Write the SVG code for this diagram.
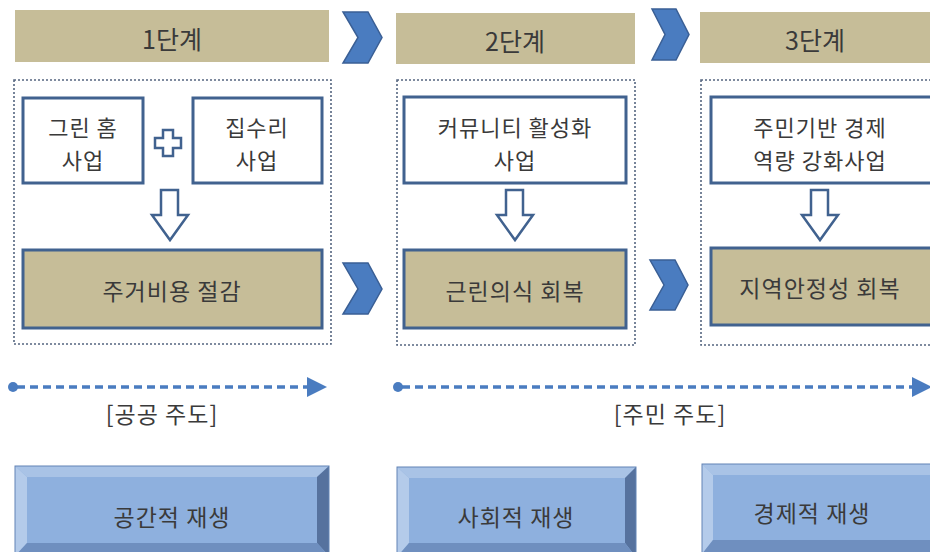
<svg xmlns="http://www.w3.org/2000/svg" width="930" height="552" viewBox="0 0 930 552">
<style>
text{font-family:"Noto Sans CJK KR","Noto Sans",sans-serif;fill:#3a3a3a;text-anchor:middle;dominant-baseline:central}
.bar{fill:#c6bd98}
.dot{fill:none;stroke:#556680;stroke-width:1.6;stroke-dasharray:2 2}
.wbox{fill:#fff;stroke:#41628f;stroke-width:3}
.kbox{fill:#c6bd98;stroke:#41628f;stroke-width:3}
.chev{fill:#4a7cc0;stroke:#3a5f95;stroke-width:1.5}
.hol{fill:#fff;stroke:#41628f;stroke-width:2.5;stroke-linejoin:miter}
.dash{stroke:#4a7cc0;stroke-width:3.5;stroke-dasharray:8 5}
.fc{fill:#8eb0de}.bt{fill:#a9c3e6}.bl{fill:#b4cbea}.br{fill:#56729e}.bb{fill:#6f8fbf}
.bo{fill:none;stroke:#6384b5;stroke-width:1}
.t22{font-size:25px}.t20{font-size:23px;letter-spacing:1px}.t2l{font-size:22px;letter-spacing:1px}
</style>
<g id="headers">
<g id="stage1"><rect class="bar" x="15" y="10" width="314" height="52"/><text class="t22" x="172" y="38">1단계</text></g>
<g id="stage2"><rect class="bar" x="396" y="13" width="239" height="51"/><text class="t22" x="515" y="40">2단계</text></g>
<g id="stage3"><rect class="bar" x="700" y="12" width="240" height="51"/><text class="t22" x="815" y="39">3단계</text></g>
</g>
<g id="frames">
<rect class="dot" x="14" y="80" width="317" height="264"/>
<rect class="dot" x="397" y="80" width="238" height="265"/>
<rect class="dot" x="701" y="80" width="240" height="265"/>
</g>
<g id="greenhome"><rect class="wbox" x="23" y="98" width="120" height="85"/><text class="t2l" x="83" y="126">그린 홈</text><text class="t2l" x="83" y="159">사업</text></g>
<g id="plus"><path class="hol" d="M163,130 h10 v8 h8 v10 h-8 v8 h-10 v-8 h-8 v-10 h8 z"/></g>
<g id="repair"><rect class="wbox" x="193" y="98" width="129" height="85"/><text class="t2l" x="257" y="126">집수리</text><text class="t2l" x="257" y="159">사업</text></g>
<g id="saving"><rect class="kbox" x="23" y="250" width="299" height="78"/><text class="t20" x="172" y="290">주거비용 절감</text></g>
<g id="community"><rect class="wbox" x="404" y="97" width="222" height="86"/><text class="t2l" x="515" y="126">커뮤니티 활성화</text><text class="t2l" x="515" y="159">사업</text></g>
<g id="neighbor"><rect class="kbox" x="404" y="250" width="222" height="78"/><text class="t20" x="515" y="290">근린의식 회복</text></g>
<g id="economy"><rect class="wbox" x="711" y="97" width="230" height="86"/><text class="t2l" x="820" y="126">주민기반 경제</text><text class="t2l" x="820" y="159">역량 강화사업</text></g>
<g id="stability"><rect class="kbox" x="711" y="248" width="230" height="77"/><text class="t20" x="820" y="287">지역안정성 회복</text></g>
<g id="connectors">
<polygon class="chev" points="343,12 368,12 382,37.5 368,63 343,63 358,37.5"/>
<polygon class="chev" points="652,9 676,9 689,34.5 676,60 652,60 665,34.5"/>
<polygon class="chev" points="343,263 368,263 382,289 368,314 343,314 358,289"/>
<polygon class="chev" points="650,260 675,260 688,285 675,310 650,310 664,285"/>
<path class="hol" d="M161,190 h17 v25 h10 l-18,25 l-18,-25 h9 z"/>
<path class="hol" d="M506,190 h17 v25 h10 l-18,25 l-18,-25 h9 z"/>
<path class="hol" d="M811,190 h17 v25 h10 l-18,25 l-18,-25 h9 z"/>
<circle cx="13" cy="387" r="5" fill="#4a7cc0"/>
<line class="dash" x1="17" y1="387" x2="308" y2="387"/>
<polygon points="307,377 327,387 307,397" fill="#4a7cc0"/>
<circle cx="398" cy="387" r="5" fill="#4a7cc0"/>
<line class="dash" x1="402" y1="387" x2="914" y2="387"/>
<polygon points="912,377 932,387 912,397" fill="#4a7cc0"/>
</g>
<g id="labels">
<text class="t20" x="162" y="413">[공공 주도]</text>
<text class="t20" x="670" y="413">[주민 주도]</text>
</g>
<g id="spatial">
<rect class="fc" x="15" y="466" width="314" height="90"/>
<polygon class="bt" points="15,466 329,466 317,477 27,477"/>
<polygon class="bl" points="15,466 27,477 27,543 15,556"/>
<polygon class="br" points="329,466 317,477 317,543 329,556"/>
<polygon class="bb" points="27,543 317,543 329,556 15,556"/>
<rect class="bo" x="15" y="466" width="314" height="90"/>
<text class="t20" x="172" y="516">공간적 재생</text>
</g>
<g id="social">
<rect class="fc" x="397" y="467" width="239" height="90"/>
<polygon class="bt" points="397,467 636,467 625,478 409,478"/>
<polygon class="bl" points="397,467 409,478 409,543 397,557"/>
<polygon class="br" points="636,467 625,478 625,543 636,557"/>
<polygon class="bb" points="409,543 625,543 636,557 397,557"/>
<rect class="bo" x="397" y="467" width="239" height="90"/>
<text class="t20" x="516" y="516">사회적 재생</text>
</g>
<g id="econregen">
<rect class="fc" x="702" y="464" width="240" height="90"/>
<polygon class="bt" points="702,464 942,464 930,475 713,475"/>
<polygon class="bl" points="702,464 713,475 713,540 702,554"/>
<polygon class="bb" points="713,540 942,540 942,554 702,554"/>
<rect class="bo" x="702" y="464" width="240" height="90"/>
<text class="t20" x="812" y="512">경제적 재생</text>
</g>
</svg>
